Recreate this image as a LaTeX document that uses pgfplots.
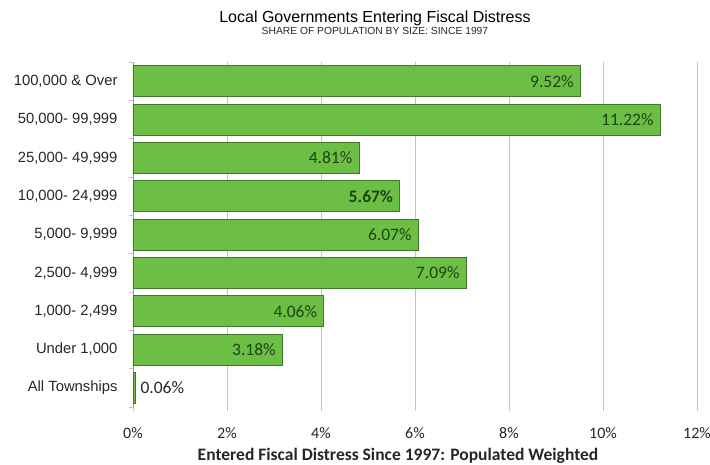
\documentclass[border=0pt]{standalone}
\usepackage{fontspec}
\setmainfont{Liberation Sans}
\newfontfamily\calibri{Carlito}
\usepackage{pgfplots}
\pgfplotsset{compat=1.18}
\definecolor{barfill}{HTML}{6CBE45}
\definecolor{bardraw}{HTML}{3F7A2C}
\definecolor{lbl}{HTML}{1C4513}
\definecolor{gridc}{HTML}{C4C4C4}
\definecolor{txt}{HTML}{262626}
\begin{document}
\begin{tikzpicture}
\begin{axis}[
  scale only axis,
  width=564bp, height=345bp,
  xbar, bar width=31bp, bar shift=0pt,
  xmin=0, xmax=12,
  ymin=-0.5, ymax=8.5,
  y dir=reverse,
  ytick={0,...,8},
  yticklabels={{100,000 \& Over},{50,000- 99,999},{25,000- 49,999},{10,000- 24,999},{5,000- 9,999},{2,500- 4,999},{1,000- 2,499},{Under 1,000},{All Townships}},
  minor ytick={-0.5,0.5,...,8.5},
  ytick style={draw=none},
  minor tick length=4bp,
  minor y tick style={draw=gridc, line width=0.6pt},
  tick align=outside,
  yticklabel style={font=\fontsize{14.8bp}{16bp}\selectfont, text=txt, xshift=-8bp},
  xtick={0,2,...,12},
  xticklabel={\pgfmathprintnumber{\tick}\%},
  /pgf/number format/assume math mode=true,
  xticklabel style={font=\calibri\fontsize{16bp}{18bp}\selectfont, text=txt, yshift=-13bp},
  major x tick style={draw=gridc, line width=0.6pt},
  major tick length=4bp,
  xmajorgrids,
  major grid style={draw=gridc, line width=0.7pt},
  axis x line*=bottom,
  axis y line*=left,
  x axis line style={draw=none},
  y axis line style={draw=gridc!80!black, line width=0.7pt},
  xlabel={\bfseries Entered Fiscal Distress Since 1997: Populated Weighted},
  xlabel style={font=\calibri\fontsize{17.5bp}{19bp}\selectfont, text=txt, yshift=-3bp, xshift=-17bp},
  point meta=x,
  clip=false,
]
\addplot[fill=barfill, draw=bardraw, line width=0.8pt,
  nodes near coords={\pgfmathprintnumber[fixed,precision=2,fixed zerofill]{\pgfplotspointmeta}\%},
  nodes near coords style={anchor=east, xshift=-3bp, font=\calibri\fontsize{17.5bp}{19bp}\selectfont, text=lbl},
] coordinates {(9.52,0) (11.22,1) (4.81,2) (6.07,4) (7.09,5) (4.06,6) (3.18,7)};
\addplot[fill=barfill, draw=bardraw, line width=0.8pt,
  nodes near coords={\bfseries\pgfmathprintnumber[fixed,precision=2,fixed zerofill]{\pgfplotspointmeta}\%},
  nodes near coords style={anchor=east, xshift=-3bp, font=\calibri\fontsize{17.5bp}{19bp}\selectfont, text=lbl},
] coordinates {(5.67,3)};
\addplot[fill=barfill, draw=bardraw, line width=0.8pt,
  nodes near coords={\pgfmathprintnumber[fixed,precision=2,fixed zerofill]{\pgfplotspointmeta}\%},
  nodes near coords style={anchor=west, xshift=1bp, font=\calibri\fontsize{17.5bp}{19bp}\selectfont, text=txt},
] coordinates {(0.06,8)};
\node[font=\fontsize{16bp}{18bp}\selectfont, text=black, anchor=base] at ([yshift=40bp]{rel axis cs:0.429,1}) {Local Governments Entering Fiscal Distress};
\node[font=\fontsize{10.3bp}{12bp}\selectfont, text=txt, anchor=base] at ([yshift=28bp]{rel axis cs:0.429,1}) {SHARE OF POPULATION BY SIZE: SINCE 1997};
\coordinate (SW) at (rel axis cs:0,0);
\coordinate (NE) at (rel axis cs:1,1);
\end{axis}
\pgfresetboundingbox
\path ([xshift=-133bp,yshift=-58bp]SW) rectangle ([xshift=13bp,yshift=62bp]NE);
\end{tikzpicture}
\end{document}
